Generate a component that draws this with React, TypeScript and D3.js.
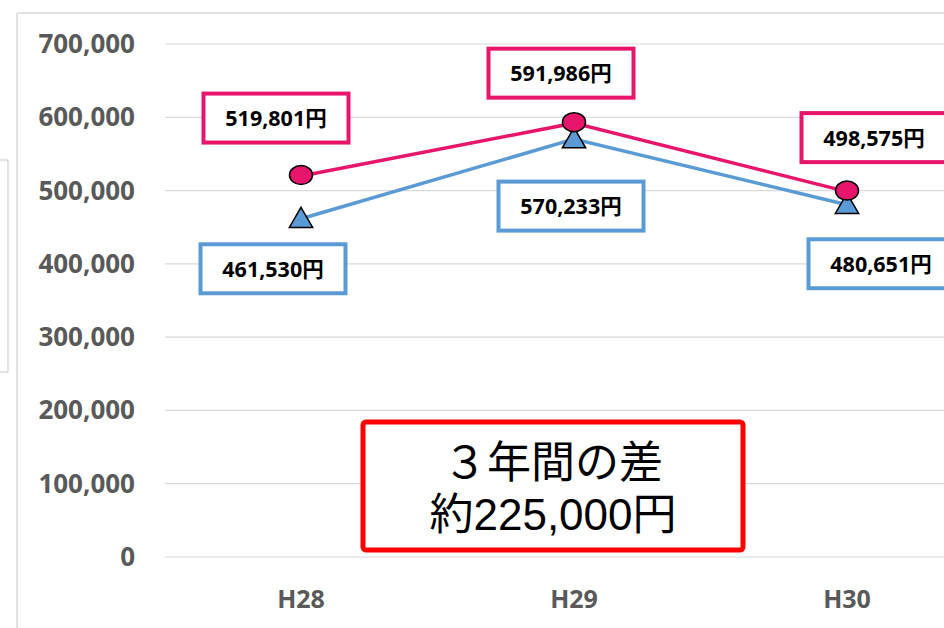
import React from "react";
import * as d3 from "d3";

const categories = ["H28", "H29", "H30"];
const pinkValues = [519801, 591986, 498575];
const blueValues = [461530, 570233, 480651];
const yTicks = [0, 100000, 200000, 300000, 400000, 500000, 600000, 700000];
const noteLines = ["３年間の差", "約225,000円"];

const W = 944;
const H = 628;
const PINK = "#E8156C";
const BLUE = "#5B9BD5";

// label box offsets relative to each point (layout, not data)
const pinkLabelOffsets = [[-25, -58], [-13, -50], [27, -54]];
const blueLabelOffsets = [[-28, 50], [-3, 67], [34, 59]];

export default function App() {
  const x = d3.scalePoint<string>().domain(categories).range([301, 301 + 2 * 273]);
  const y = d3.scaleLinear().domain([0, 700000]).range([557, 44]);
  const fmt = d3.format(",");

  const line = d3
    .line<number>()
    .x((_, i) => x(categories[i]) as number)
    .y((v) => y(v));

  const tri = d3.symbol().type(d3.symbolTriangle).size(235)();

  const labelFont = "'Open Sans', 'Noto Sans CJK JP', sans-serif";

  const renderLabel = (v: number, i: number, off: number[], color: string, key: string) => {
    const cx = (x(categories[i]) as number) + off[0];
    const cy = y(v) + off[1];
    const bw = 145;
    const bh = 49;
    return (
      <g key={key}>
        <rect x={cx - bw / 2} y={cy - bh / 2} width={bw} height={bh} fill="#fff" stroke={color} strokeWidth={4} />
        <text x={cx} y={cy + 8} textAnchor="middle" fontFamily={labelFont} fontWeight={700} fontSize={21.5} fill="#000">
          {fmt(v) + "円"}
        </text>
      </g>
    );
  };

  return (
    <svg width={W} height={H} style={{ position: "absolute", left: 0, top: 0, background: "#fff" }}>
      <rect x={0} y={0} width={W} height={H} fill="#fff" />
      {/* chart frame */}
      <line x1={17} y1={13} x2={W} y2={13} stroke="#d9d9d9" strokeWidth={1.5} />
      <line x1={17} y1={13} x2={17} y2={H} stroke="#d9d9d9" strokeWidth={1.5} />
      <rect x={-2} y={160} width={10} height={212} fill="none" stroke="#c8c8c8" strokeWidth={1} />

      {/* gridlines */}
      {yTicks.map((t) => (
        <line key={"g" + t} x1={165} x2={W} y1={y(t)} y2={y(t)} stroke="#d9d9d9" strokeWidth={1.2} />
      ))}
      {/* y labels */}
      {yTicks.map((t) => (
        <text
          key={"yl" + t}
          x={135}
          y={y(t) + 9}
          textAnchor="end"
          fontFamily="'Open Sans', sans-serif"
          fontWeight={700}
          fontSize={26}
          fill="#595959"
        >
          {fmt(t)}
        </text>
      ))}
      {/* x labels */}
      {categories.map((c) => (
        <text
          key={"xl" + c}
          x={x(c) as number}
          y={608}
          textAnchor="middle"
          fontFamily="'Open Sans', sans-serif"
          fontWeight={700}
          fontSize={25}
          fill="#595959"
        >
          {c}
        </text>
      ))}

      {/* lines */}
      <path d={line(blueValues) || ""} fill="none" stroke={BLUE} strokeWidth={3.5} />
      <path d={line(pinkValues) || ""} fill="none" stroke={PINK} strokeWidth={3.5} />

      {/* markers */}
      {blueValues.map((v, i) => (
        <path
          key={"bm" + i}
          d={tri || ""}
          transform={`translate(${x(categories[i])},${y(v) + 2})`}
          fill={BLUE}
          stroke="#000"
          strokeWidth={1.5}
        />
      ))}
      {pinkValues.map((v, i) => (
        <ellipse
          key={"pm" + i}
          cx={x(categories[i]) as number}
          cy={y(v) - 1}
          rx={11.5}
          ry={9.5}
          fill={PINK}
          stroke="#000"
          strokeWidth={1.5}
        />
      ))}

      {/* data label boxes */}
      {pinkValues.map((v, i) => renderLabel(v, i, pinkLabelOffsets[i], PINK, "pl" + i))}
      {blueValues.map((v, i) => renderLabel(v, i, blueLabelOffsets[i], BLUE, "bl" + i))}

      {/* note box */}
      <rect x={363} y={422} width={380} height={128} rx={3} fill="#fff" stroke="#ff0000" strokeWidth={5} />
      {noteLines.map((t, i) => (
        <text
          key={"n" + i}
          x={553}
          y={478 + i * 52}
          textAnchor="middle"
          fontFamily="'Liberation Sans', 'Noto Sans CJK JP', sans-serif"
          fontSize={44}
          fill="#000"
        >
          {t}
        </text>
      ))}
    </svg>
  );
}
